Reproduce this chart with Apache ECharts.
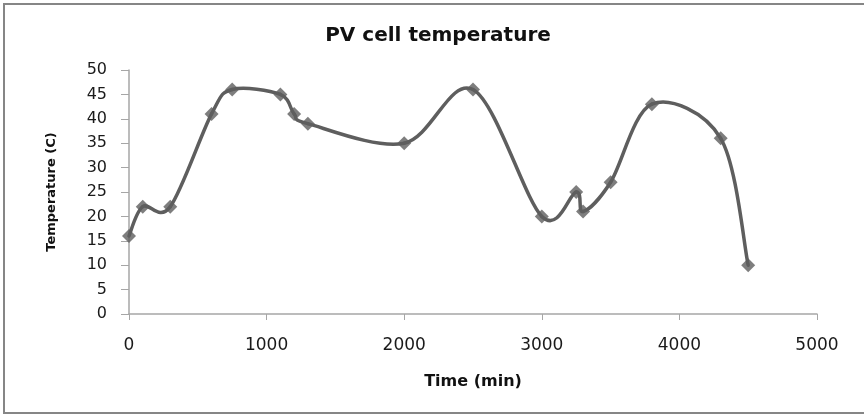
<!DOCTYPE html>
<html>
<head>
<meta charset="utf-8">
<script src="https://cdn.jsdelivr.net/npm/echarts@6/dist/echarts.min.js"></script>
<style>
html,body{margin:0;padding:0;background:#fff;overflow:hidden;}
#chart{width:864px;height:415px;}
</style>
</head>
<body>
<div id="chart"></div>
<script>
var timeMin = [0, 100, 300, 600, 750, 1100, 1200, 1300, 2000, 2500, 3000, 3250, 3300, 3500, 3800, 4300, 4500];
var tempC   = [16, 22, 22, 41, 46, 45, 41, 39, 35, 46, 20, 25, 21, 27, 43, 36, 10];
var titleText = 'PV cell temperature';
var xName = 'Time (min)';
var yName = 'Temperature (C)';

var points = timeMin.map(function (t, i) { return [t, tempC[i]]; });
var LINE_COLOR = '#5e5e5e';

// Excel-like smoothed line: one Catmull-Rom bezier segment per data interval,
// with every endpoint mapped through the chart's own axes (api.coord).
function renderSegment(params, api) {
  var i = params.dataIndex;
  var n = points.length;
  if (i >= n - 1) return null;
  var p0 = api.coord(points[Math.max(i - 1, 0)]);
  var p1 = api.coord(points[i]);
  var p2 = api.coord(points[i + 1]);
  var p3 = api.coord(points[Math.min(i + 2, n - 1)]);
  var k = 1 / 6;
  var c1 = [p1[0] + (p2[0] - p0[0]) * k, p1[1] + (p2[1] - p0[1]) * k];
  var c2 = [p2[0] - (p3[0] - p1[0]) * k, p2[1] - (p3[1] - p1[1]) * k];
  return {
    type: 'bezierCurve',
    shape: { x1: p1[0], y1: p1[1], x2: p2[0], y2: p2[1], cpx1: c1[0], cpy1: c1[1], cpx2: c2[0], cpy2: c2[1] },
    style: { fill: null, stroke: LINE_COLOR, lineWidth: 3.5, lineCap: 'round' },
    silent: true
  };
}

var chart = echarts.init(document.getElementById('chart'));
chart.setOption({
  animation: false,
  backgroundColor: '#ffffff',
  graphic: [{
    type: 'rect',
    shape: { x: 4, y: 4, width: 900, height: 409 },
    style: { fill: 'none', stroke: '#868686', lineWidth: 2 },
    silent: true
  }],
  title: {
    text: titleText,
    left: 433,
    top: 21,
    textAlign: 'center',
    textStyle: { fontFamily: 'DejaVu Sans', fontWeight: 'bold', fontSize: 20, color: '#111' }
  },
  grid: { left: 129, right: 47, top: 70, bottom: 101 },
  xAxis: {
    type: 'value',
    min: 0, max: 5000, interval: 1000,
    name: xName,
    nameLocation: 'middle',
    nameGap: 60,
    nameTextStyle: { fontFamily: 'DejaVu Sans', fontWeight: 'bold', fontSize: 16, color: '#111' },
    axisLine: { show: true, lineStyle: { color: '#a6a6a6', width: 1.5 } },
    axisTick: { show: true, length: 6, lineStyle: { color: '#a6a6a6', width: 1 } },
    axisLabel: { margin: 23, fontFamily: 'DejaVu Sans', fontSize: 17, color: '#1a1a1a',
      formatter: function (v) { return String(v); } },
    splitLine: { show: false }
  },
  yAxis: {
    type: 'value',
    min: 0, max: 50, interval: 5,
    name: yName,
    nameLocation: 'middle',
    nameGap: 71,
    nameTextStyle: { fontFamily: 'DejaVu Sans', fontWeight: 'bold', fontSize: 13, color: '#111' },
    axisLine: { show: true, lineStyle: { color: '#a6a6a6', width: 1.5 } },
    axisTick: { show: true, length: 8, lineStyle: { color: '#a6a6a6', width: 1 } },
    axisLabel: { margin: 22, fontFamily: 'DejaVu Sans', fontSize: 16, color: '#1a1a1a' },
    splitLine: { show: false }
  },
  series: [{
    type: 'custom',
    renderItem: renderSegment,
    data: points,
    clip: false,
    z: 2
  }, {
    type: 'scatter',
    data: points,
    symbol: 'diamond',
    symbolSize: 14,
    itemStyle: { color: LINE_COLOR },
    z: 3
  }]
});
</script>
</body>
</html>
